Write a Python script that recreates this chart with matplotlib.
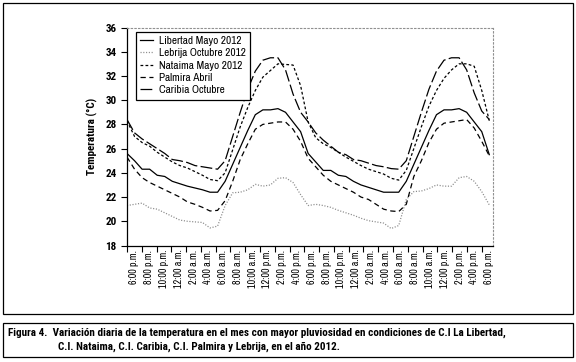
import numpy as np
import matplotlib
matplotlib.use("Agg")
import matplotlib.pyplot as plt
from matplotlib.patches import Rectangle

plt.rcParams['font.family'] = ['Archivo Narrow', 'DejaVu Sans']
plt.rcParams['lines.scale_dashes'] = False
bold_font = ['Roboto Condensed', 'DejaVu Sans']

# hourly readings, 6:00 p.m. -> 6:00 p.m. two days later (49 points)
libertad = [25.6, 25.0, 24.3, 24.3, 23.8, 23.7, 23.3, 23.1, 22.9, 22.75, 22.6, 22.4, 22.4,
            23.3, 24.7, 26.1, 27.5, 28.8, 29.2, 29.2, 29.3, 29.0, 28.2, 27.4, 25.6,
            24.9, 24.2, 24.2, 23.8, 23.7, 23.3, 23.0, 22.8, 22.6, 22.4, 22.4, 22.4,
            23.3, 24.7, 26.1, 27.5, 28.8, 29.2, 29.2, 29.3, 29.0, 28.2, 27.4, 25.5]
lebrija = [21.3, 21.4, 21.5, 21.1, 21.0, 20.7, 20.4, 20.1, 20.0, 19.95, 19.9, 19.45, 19.6,
           21.3, 22.35, 22.4, 22.6, 23.05, 22.9, 23.0, 23.55, 23.6, 23.2, 22.2, 21.3,
           21.4, 21.3, 21.15, 20.9, 20.7, 20.5, 20.25, 20.05, 19.95, 19.85, 19.4, 19.65,
           21.8, 22.45, 22.5, 22.7, 23.0, 22.9, 22.9, 23.6, 23.7, 23.3, 22.45, 21.35]
nataima = [28.3, 27.0, 26.5, 26.2, 25.7, 25.3, 24.9, 24.6, 24.4, 24.1, 23.8, 23.45, 23.35,
           24.0, 25.9, 27.8, 29.4, 30.8, 31.9, 32.45, 33.0, 32.95, 32.9, 31.2, 28.2,
           26.9, 26.4, 26.1, 25.7, 25.3, 24.95, 24.6, 24.3, 24.1, 23.9, 23.55, 23.4,
           24.2, 26.0, 27.8, 29.5, 30.8, 31.8, 32.5, 33.0, 33.0, 32.8, 30.8, 28.3]
palmira = [25.3, 24.3, 23.6, 23.2, 22.9, 22.6, 22.3, 22.0, 21.6, 21.4, 21.15, 20.85, 20.9,
           21.7, 23.3, 25.1, 26.4, 27.6, 28.0, 28.1, 28.2, 28.2, 27.6, 26.6, 25.2,
           24.5, 23.8, 23.3, 23.0, 22.7, 22.4, 22.0, 21.8, 21.4, 21.0, 20.85, 20.8,
           21.4, 23.7, 25.0, 26.5, 27.6, 28.1, 28.2, 28.3, 28.4, 27.7, 26.6, 25.4]
caribia = [28.4, 27.3, 26.8, 26.4, 26.0, 25.6, 25.1, 25.0, 24.85, 24.6, 24.5, 24.4, 24.3,
           25.0, 27.0, 29.0, 30.9, 32.4, 33.3, 33.5, 33.5, 32.5, 30.5, 29.0, 28.2,
           27.3, 26.7, 26.2, 25.7, 25.5, 25.1, 25.0, 24.8, 24.6, 24.5, 24.35, 24.3,
           25.0, 27.0, 29.0, 30.9, 32.4, 33.3, 33.5, 33.5, 32.5, 30.6, 29.1, 28.4]

hour_labels = ['6:00 p.m.', '8:00 p.m.', '10:00 p.m.', '12:00 a.m.', '2:00 a.m.', '4:00 a.m.',
               '6:00 a.m.', '8:00 a.m.', '10:00 a.m.', '12:00 p.m.', '2:00 p.m.', '4:00 p.m.',
               '6:00 p.m.', '8:00 p.m.', '10:00 p.m.', '12:00 a.m.', '2:00 a.m.', '4:00 a.m.',
               '6:00 a.m.', '8:00 a.m.', '10:00 a.m.', '12:00 p.m.', '2:00 p.m.', '4:00 p.m.',
               '6:00 p.m.']

hours = np.arange(len(libertad))

fig = plt.figure(figsize=(5.76, 3.62), dpi=100)
ax = fig.add_axes([127/576, 1-245.5/362, 366/576, 218/362])

ax.plot(hours, libertad, color='black', lw=0.9, label='Libertad Mayo 2012')
ax.plot(hours, lebrija, color='#8a8a8a', lw=0.9, dashes=(0.8, 1.2), label='Lebrija Octubre 2012')
ax.plot(hours, nataima, color='black', lw=0.9, dashes=(2.0, 1.6), label='Nataima Mayo 2012')
ax.plot(hours, palmira, color='black', lw=0.9, dashes=(3.8, 2.6), label='Palmira Abril')
ax.plot(hours, caribia, color='black', lw=0.9, dashes=(8.5, 2.4), label='Caribia Octubre')

ax.set_xlim(0, 48.49)
ax.set_ylim(18, 36)

# category slots as drawn in the original (labels sit between tick marks)
slot = 1.958
ax.set_xticks(np.arange(25) * slot)
ax.set_xticklabels([])
ax.set_xticks((np.arange(25) + 0.5) * slot, minor=True)
ax.set_xticklabels(hour_labels, minor=True, rotation=90, fontsize=7.2)
ax.tick_params(axis='x', which='major', direction='out', length=4, width=0.8)
ax.tick_params(axis='x', which='minor', length=0, pad=3)

ax.set_yticks(np.arange(18, 37, 2))
ax.tick_params(axis='y', direction='out', length=4, width=0.8)
for lbl in ax.get_yticklabels():
    lbl.set_family(bold_font)
    lbl.set_fontweight('bold')
    lbl.set_fontsize(8)
ax.set_ylabel('Temperatura (°C)', fontsize=8, fontweight='bold', family=bold_font, labelpad=5)

for side in ['top', 'right']:
    ax.spines[side].set_color('#909090')
    ax.spines[side].set_linestyle(':')
    ax.spines[side].set_linewidth(0.8)
for side in ['left', 'bottom']:
    ax.spines[side].set_linewidth(0.9)

leg = ax.legend(loc='upper left', bbox_to_anchor=(0.024, 0.981), fontsize=8.1,
                handlelength=1.15, handletextpad=0.5, labelspacing=0.2,
                fancybox=False, framealpha=1, borderpad=0.4, borderaxespad=0)
leg.get_frame().set_edgecolor('black')
leg.get_frame().set_linewidth(0.9)

# outer frame of the chart and caption box
fig.add_artist(Rectangle((3/576, 1-314/362), 570/576, 311/362, transform=fig.transFigure,
                         fill=False, edgecolor='black', lw=0.9))
fig.add_artist(Rectangle((3/576, 1-357/362), 570/576, 34/362, transform=fig.transFigure,
                         fill=False, edgecolor='black', lw=0.9))
fig.text(8/576, 1-333/362,
         'Figura 4.  Variación diaria de la temperatura en el mes con mayor pluviosidad en condiciones de C.I La Libertad,',
         fontsize=8.0, fontweight='bold', family=bold_font, va='center')
fig.text(58/576, 1-347/362,
         'C.I. Nataima, C.I. Caribia, C.I. Palmira y Lebrija, en el año 2012.',
         fontsize=8.0, fontweight='bold', family=bold_font, va='center')

fig.savefig('out.png', dpi=100)
